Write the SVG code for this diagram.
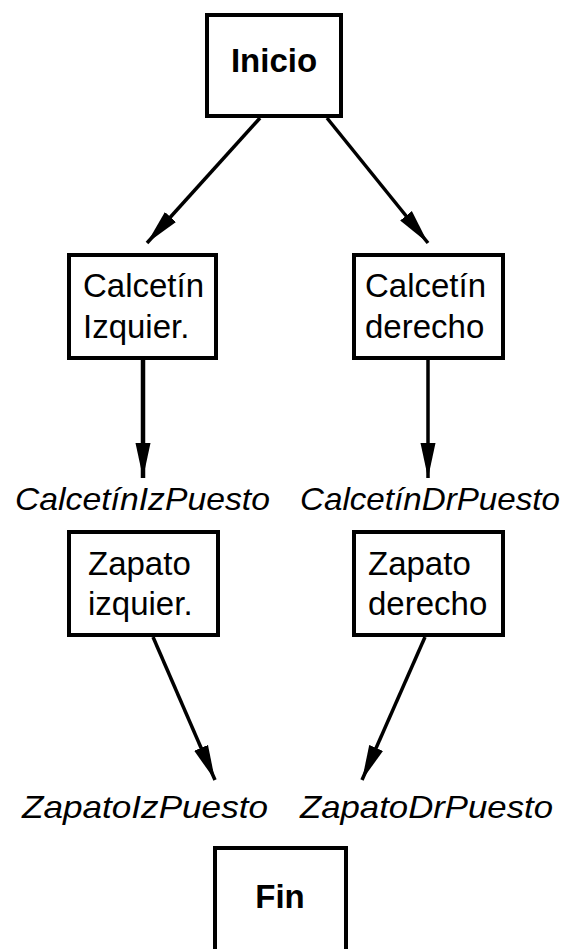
<svg xmlns="http://www.w3.org/2000/svg" width="571" height="949" viewBox="0 0 571 949">
<style>
.box{fill:#fff;stroke:#000;stroke-width:4}
.t{font-family:"Liberation Sans",Arial,sans-serif;font-size:33px;fill:#000}
.b{font-weight:bold}
.lab{font-family:"Liberation Sans",Arial,sans-serif;font-size:32px;font-style:italic;fill:#000}
.c{fill:none;stroke:#000;stroke-width:3.5}
</style>
<defs>
<marker id="ah" markerUnits="userSpaceOnUse" markerWidth="36" markerHeight="16" viewBox="0 0 36 16" refX="35" refY="8" orient="auto">
<path d="M0,0.5 L35,8 L0,15.5 z" fill="#000"/>
</marker>
</defs>
<rect width="571" height="949" fill="#fff"/>
<g id="connectors">
<line class="c" x1="260" y1="118" x2="147" y2="243" marker-end="url(#ah)"/>
<line class="c" x1="327" y1="118" x2="428" y2="243" marker-end="url(#ah)"/>
<line class="c" x1="143" y1="360" x2="143" y2="478" marker-end="url(#ah)" style="stroke-width:4.5"/>
<line class="c" x1="428" y1="360" x2="428" y2="478" marker-end="url(#ah)"/>
<line class="c" x1="153" y1="637" x2="215" y2="780" marker-end="url(#ah)"/>
<line class="c" x1="425" y1="637" x2="362" y2="780" marker-end="url(#ah)"/>
</g>
<g id="inicio">
<rect class="box" x="207" y="15" width="134" height="101"/>
<text class="t b" x="274" y="72" text-anchor="middle">Inicio</text>
</g>
<g id="calcetin-izq">
<rect class="box" x="69" y="255" width="147" height="103"/>
<text class="t" x="83" y="297">Calcetín</text>
<text class="t" x="83" y="338">Izquier.</text>
</g>
<g id="calcetin-der">
<rect class="box" x="354" y="255" width="149" height="103"/>
<text class="t" x="365" y="297">Calcetín</text>
<text class="t" x="365" y="338">derecho</text>
</g>
<g id="label-calcetin-iz">
<text class="lab" x="15" y="510" textLength="255" lengthAdjust="spacingAndGlyphs">CalcetínIzPuesto</text>
</g>
<g id="label-calcetin-dr">
<text class="lab" x="300" y="510" textLength="260" lengthAdjust="spacingAndGlyphs">CalcetínDrPuesto</text>
</g>
<g id="zapato-izq">
<rect class="box" x="69" y="532" width="149" height="103"/>
<text class="t" x="88" y="575">Zapato</text>
<text class="t" x="88" y="615">izquier.</text>
</g>
<g id="zapato-der">
<rect class="box" x="354" y="532" width="149" height="103"/>
<text class="t" x="368" y="575">Zapato</text>
<text class="t" x="368" y="615">derecho</text>
</g>
<g id="label-zapato-iz">
<text class="lab" x="22" y="818" textLength="246" lengthAdjust="spacingAndGlyphs">ZapatoIzPuesto</text>
</g>
<g id="label-zapato-dr">
<text class="lab" x="300" y="818" textLength="253" lengthAdjust="spacingAndGlyphs">ZapatoDrPuesto</text>
</g>
<g id="fin">
<rect class="box" x="215" y="848" width="131" height="120"/>
<text class="t b" x="280" y="908" text-anchor="middle">Fin</text>
</g>
</svg>
